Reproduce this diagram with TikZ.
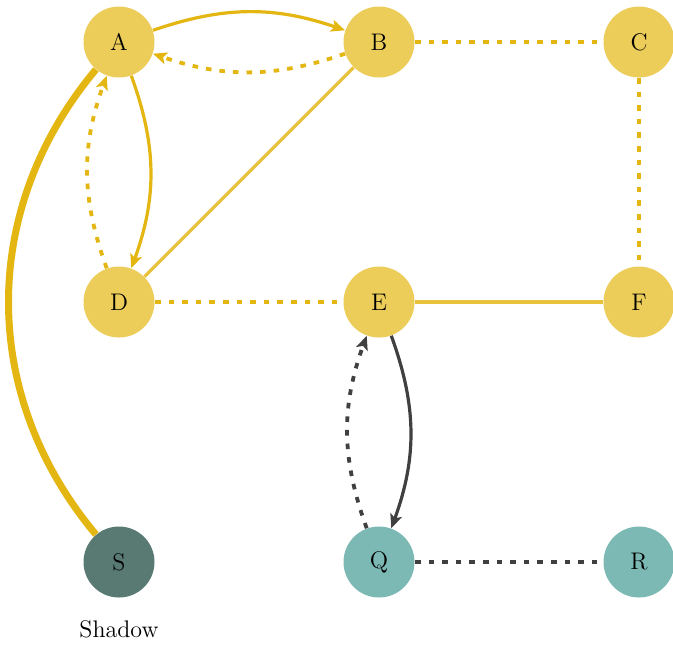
\documentclass[tikz,border=0pt,12pt]{standalone}
\usetikzlibrary{arrows.meta}
\definecolor{nodey}{HTML}{ECCD5A}
\definecolor{edgey}{HTML}{E4B612}
\definecolor{edgeyl}{HTML}{E9C23C}
\definecolor{edged}{HTML}{404040}
\definecolor{nodet}{HTML}{7CB9B4}
\definecolor{nodes}{HTML}{587A72}
\tikzset{
  vtx/.style={circle, minimum size=35.5pt, inner sep=0pt, draw=none},
  ynode/.style={vtx, fill=nodey},
  tnode/.style={vtx, fill=nodet},
  snode/.style={vtx, fill=nodes},
  edge/.style={line width=1.6pt},
  dsh/.style={line width=1.9pt, dash pattern=on 2.8pt off 4pt},
  arr/.style={-{Stealth[length=7pt,width=6pt,inset=1.6pt]}},
}
\begin{document}
\begin{tikzpicture}[x=0.5pt,y=-0.5pt]
\useasboundingbox (0,0) rectangle (673,645);
\node[ynode] (A) at (119,42) {A};
\node[ynode] (B) at (379,42) {B};
\node[ynode] (C) at (639,42) {C};
\node[ynode] (D) at (119,302) {D};
\node[ynode] (E) at (379,302) {E};
\node[ynode] (F) at (639,302) {F};
\node[snode] (S) at (119,562) {S};
\node[tnode] (Q) at (379,562) {Q};
\node[tnode] (R) at (639,562) {R};
\node (lab) at (119,629) {Shadow};
% A-S thick
\draw[edgey, line width=3.5pt] (A) to[bend right=40] (S);
% yellow edges
\draw[edgey, edge, arr] (A) to[bend left=19] (B);
\draw[edgey, dsh, arr] (B) to[bend left=19] (A);
\draw[edgey, edge, arr] (A) to[bend left=20] (D);
\draw[edgey, dsh, arr] (D) to[bend left=20] (A);
\draw[edgey, dsh] (B) -- (C);
\draw[edgey, dsh] (C) -- (F);
\draw[edgey, dsh] (D) -- (E);
\draw[edgeyl, edge] (B) -- (D);
\draw[edgeyl, edge] (E) -- (F);
% dark edges
\draw[edged, edge, arr] (E) to[bend left=20] (Q);
\draw[edged, dsh, arr] (Q) to[bend left=20] (E);
\draw[edged, dsh] (Q) -- (R);
\end{tikzpicture}
\end{document}
